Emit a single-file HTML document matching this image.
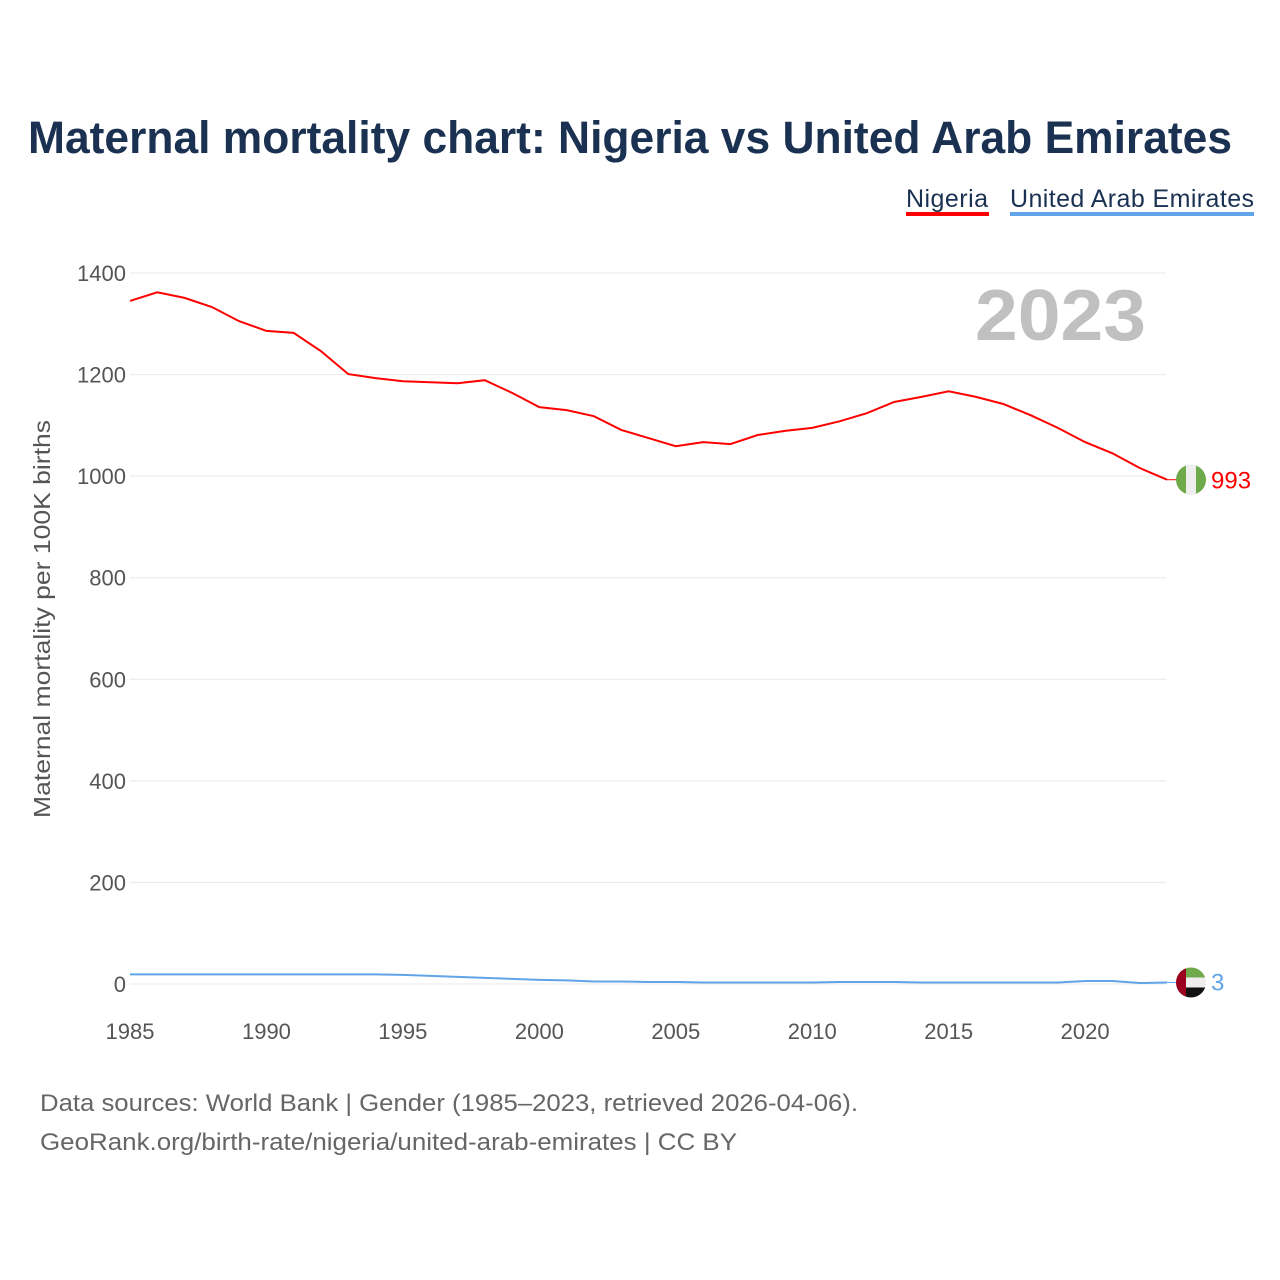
<!DOCTYPE html>
<html><head><meta charset="utf-8">
<style>
html,body{margin:0;padding:0;background:#fff;width:1280px;height:1280px;overflow:hidden;font-family:"Liberation Sans",sans-serif}
</style></head>
<body>
<svg id="chart" width="1280" height="1280" xmlns="http://www.w3.org/2000/svg" font-family="Liberation Sans, sans-serif">
<text x="28" y="153" font-size="45" font-weight="bold" fill="#1a3152" textLength="1204" lengthAdjust="spacingAndGlyphs">Maternal mortality chart: Nigeria vs United Arab Emirates</text>
<g>
<text x="906" y="207" font-size="25" fill="#1a3152" textLength="82">Nigeria</text>
<rect x="906" y="212" width="83" height="4" fill="#ff0000"/></g>
<g>
<text x="1010" y="207" font-size="25" fill="#1a3152" textLength="244">United Arab Emirates</text>
<rect x="1010" y="212" width="244" height="4" fill="#62a4e9"/></g>
<text x="975" y="340" font-size="72" font-weight="bold" fill="#c0c0c0" textLength="171" lengthAdjust="spacingAndGlyphs">2023</text>
<text transform="translate(50,619) rotate(-90)" text-anchor="middle" font-size="23" fill="#555" textLength="398" lengthAdjust="spacingAndGlyphs">Maternal mortality per 100K births</text>
<g id="grid"></g><g id="xt"></g><g id="lines"></g>
<text x="40" y="1111" font-size="24" fill="#666" textLength="818" lengthAdjust="spacingAndGlyphs">Data sources: World Bank | Gender (1985–2023, retrieved 2026-04-06).</text>
<text x="40" y="1150" font-size="24" fill="#666" textLength="697" lengthAdjust="spacingAndGlyphs">GeoRank.org/birth-rate/nigeria/united-arab-emirates | CC BY</text>
</svg>
<script>
const years=[1985,1986,1987,1988,1989,1990,1991,1992,1993,1994,1995,1996,1997,1998,1999,2000,2001,2002,2003,2004,2005,2006,2007,2008,2009,2010,2011,2012,2013,2014,2015,2016,2017,2018,2019,2020,2021,2022,2023];
const nigeria=[1345,1362,1351,1333,1305,1286,1282,1246,1201,1193,1187,1185,1183,1189,1164,1136,1130,1118,1091,1075,1059,1067,1063,1081,1089,1095,1108,1124,1146,1156,1167,1156,1142,1120,1095,1067,1045,1016,993];
const uae=[19,19,19,19,19,19,19,19,19,19,18,16,14,12,10,8,7,5,5,4,4,3,3,3,3,3,4,4,4,3,3,3,3,3,3,6,6,2,3];
const yTicks=[0,200,400,600,800,1000,1200,1400];
const xTicks=[1985,1990,1995,2000,2005,2010,2015,2020];
const NS='http://www.w3.org/2000/svg';
const X=v=>130+(v-1985)*(1167-130)/38;
const Y=v=>984-v*(984-273)/1400;
function mk(t,a,p){const e=document.createElementNS(NS,t);for(const k in a)e.setAttribute(k,a[k]);p.appendChild(e);return e;}
const grid=document.getElementById('grid');
yTicks.forEach(t=>{
 const l=mk('line',{x1:130,x2:1166,y1:Y(t),y2:Y(t),stroke:'#e8e8e8','stroke-width':1},grid);
 
 
 const tx=mk('text',{x:126,y:Y(t)+8,'text-anchor':'end','font-size':22,fill:'#555'},grid);
 tx.textContent=t;
 
 
});
const xt=document.getElementById('xt');
xTicks.forEach(t=>{
 const tx=mk('text',{x:X(t),y:1039,'text-anchor':'middle','font-size':22,fill:'#555'},xt);
 tx.textContent=t;
 
 
});
const lines=document.getElementById('lines');
function series(vals,color,name){
 const d=vals.map((v,i)=>(i?'L':'M')+X(years[i]).toFixed(1)+','+Y(v).toFixed(1)).join('');
 const p=mk('path',{d:d,fill:'none',stroke:color,'stroke-width':2},lines);
 
 
 const last=vals[vals.length-1];
 mk('line',{x1:X(2023),x2:1177,y1:Y(last),y2:Y(last),stroke:color,'stroke-width':1},lines);
 return Y(last);
}
const ny=series(nigeria,'#ff0000','nigeria');
const uy=series(uae,'#62a4e9','uae');
const nf=mk('g',{},lines);


mk('clipPath',{id:'c1'},nf).appendChild(document.createElementNS(NS,'circle'));
const c1=nf.querySelector('circle');c1.setAttribute('cx',1191);c1.setAttribute('cy',ny);c1.setAttribute('r',15);
const g1=mk('g',{'clip-path':'url(#c1)'},nf);
mk('rect',{x:1176,y:ny-15,width:30,height:30,fill:'#6ea94a'},g1);
mk('rect',{x:1186,y:ny-15,width:10,height:30,fill:'#eeeeee'},g1);
const nt=mk('text',{x:1211,y:ny+9,'font-size':24,fill:'#ff0000'},lines);nt.textContent=nigeria[nigeria.length-1];


const uf=mk('g',{},lines);


mk('clipPath',{id:'c2'},uf).appendChild(document.createElementNS(NS,'circle'));
const c2=uf.querySelector('circle');c2.setAttribute('cx',1191);c2.setAttribute('cy',uy);c2.setAttribute('r',15);
const g2=mk('g',{'clip-path':'url(#c2)'},uf);
mk('rect',{x:1176,y:uy-15,width:30,height:10,fill:'#6ea94a'},g2);
mk('rect',{x:1176,y:uy-5,width:30,height:10,fill:'#eeeeee'},g2);
mk('rect',{x:1176,y:uy+5,width:30,height:10,fill:'#111'},g2);
mk('rect',{x:1176,y:uy-15,width:10,height:30,fill:'#9b0020'},g2);
const ut=mk('text',{x:1211,y:uy+8,'font-size':24,fill:'#62a4e9'},lines);ut.textContent=uae[uae.length-1];


</script>
</body></html>
